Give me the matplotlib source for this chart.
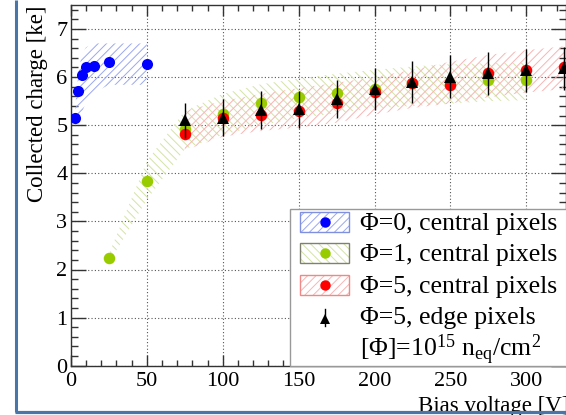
import matplotlib
matplotlib.use("Agg")
import matplotlib.pyplot as plt
from matplotlib.patches import Rectangle
from matplotlib.lines import Line2D
from matplotlib.ticker import MultipleLocator

plt.rcParams["font.family"] = ["Liberation Serif", "DejaVu Serif"]
plt.rcParams["mathtext.fontset"] = "custom"
plt.rcParams["mathtext.rm"] = "Liberation Serif"
plt.rcParams["mathtext.it"] = "Liberation Serif:italic"
plt.rcParams["hatch.linewidth"] = 0.7

# DATA
blue_v = [3, 5, 7, 10, 15, 25, 50]
blue_q = [5.14, 5.71, 6.04, 6.20, 6.23, 6.31, 6.27]
blue_band_v = [3, 5, 7, 10, 15, 25, 50]
blue_band_lo = [4.90, 5.07, 5.24, 5.49, 5.67, 5.84, 5.84]
blue_band_hi = [5.45, 6.10, 6.45, 6.62, 6.70, 6.70, 6.70]

green_v = [25, 50, 75, 100, 125, 150, 175, 200, 225, 250, 275, 300]
green_q = [2.23, 3.85, 4.92, 5.24, 5.46, 5.59, 5.66, 5.75, 5.87, 5.85, 5.95, 5.95]
green_band_v = [25, 50, 75, 100, 125, 150, 175, 200, 225, 250, 275, 300]
green_band_lo = [2.14, 3.45, 4.50, 4.80, 5.00, 5.15, 5.25, 5.35, 5.40, 5.45, 5.50, 5.52]
green_band_hi = [2.32, 4.25, 5.30, 5.65, 5.85, 5.97, 6.07, 6.15, 6.22, 6.27, 6.29, 6.30]

red_v = [75, 100, 125, 150, 175, 200, 225, 250, 275, 300, 325]
red_q = [4.81, 5.14, 5.22, 5.30, 5.47, 5.68, 5.87, 5.84, 6.08, 6.15, 6.20]
red_band_v = [75, 100, 125, 150, 175, 200, 225, 250, 275, 300, 325]
red_band_lo = [4.48, 4.76, 4.88, 4.95, 5.05, 5.22, 5.36, 5.45, 5.58, 5.68, 5.75]
red_band_hi = [5.30, 5.50, 5.65, 5.77, 5.88, 6.00, 6.15, 6.32, 6.46, 6.56, 6.64]

edge_v = [75, 100, 125, 150, 175, 200, 225, 250, 275, 300, 325]
edge_q = [5.10, 5.16, 5.32, 5.33, 5.54, 5.75, 5.90, 6.01, 6.08, 6.14, 6.18]
edge_err = [0.37, 0.39, 0.39, 0.39, 0.40, 0.43, 0.44, 0.45, 0.45, 0.45, 0.45]

legend_labels = ["Φ=0, central pixels", "Φ=1, central pixels",
                 "Φ=5, central pixels", "Φ=5, edge pixels",
                 r"[Φ]=10$^{15}$ n$_{\mathrm{eq}}$/cm$^{2}$"]

BLUE, BLUE_H = "#0000ff", "#9aa8f2"
GREEN, GREEN_H = "#99cc00", "#d3e3a6"
RED, RED_H = "#ff0000", "#f9b4b4"
AXC = "#333333"

W, H = 566, 415


def fx(x):
    return x / W


def fy(y):
    return 1 - y / H


fig = plt.figure(figsize=(W / 100, H / 100), dpi=100)
fig.patch.set_facecolor("white")
ax = fig.add_axes([fx(70.9), fy(365.7), 326 * 1.518 / W, 7.5 * 48.1 / H])

# bands
ax.fill_between(blue_band_v, blue_band_lo, blue_band_hi, facecolor="none",
                edgecolor=BLUE_H, hatch="////", linewidth=0, zorder=1)
ax.fill_between(green_band_v, green_band_lo, green_band_hi, facecolor="none",
                edgecolor=GREEN_H, hatch="\\\\\\\\", linewidth=0, zorder=1)
ax.fill_between(red_band_v, red_band_lo, red_band_hi, facecolor="none",
                edgecolor=RED_H, hatch="////", linewidth=0, zorder=1.1)

# points
ax.plot(blue_v, blue_q, "o", color=BLUE, ms=8, mew=0, zorder=3)
ax.plot(green_v, green_q, "o", color=GREEN, ms=8.3, mew=0, zorder=3)
ax.plot(red_v, red_q, "o", color=RED, ms=8.3, mew=0, zorder=4)
ax.errorbar(edge_v, edge_q, yerr=edge_err, fmt="^", color="black", ms=9,
            mew=0, elinewidth=1, capsize=1.5, capthick=1, zorder=5)

ax.set_xlim(0, 326)
ax.set_ylim(0, 7.5)
ax.xaxis.set_major_locator(MultipleLocator(50))
ax.xaxis.set_minor_locator(MultipleLocator(10))
ax.yaxis.set_major_locator(MultipleLocator(1))
ax.yaxis.set_minor_locator(MultipleLocator(0.2))
ax.tick_params(which="both", direction="in", top=True, right=True,
               color=AXC, width=1)
ax.tick_params(axis="x", which="major", length=7.6, pad=4.7, labelsize=16)
ax.tick_params(axis="x", which="minor", length=4)
ax.tick_params(axis="y", which="major", length=10.8, pad=2.5, labelsize=16)
ax.tick_params(axis="y", which="minor", length=5.2)
ax.grid(True, which="major", linestyle=(0, (1, 2)), color="#555555", lw=0.8)
ax.set_axisbelow(True)
for sp in ax.spines.values():
    sp.set_color(AXC)
    sp.set_linewidth(1)

# axis titles, ROOT style at the axis ends (the x one runs past the crop)
fig.text(fx(38), fy(5), "Collected charge [ke]", rotation=90,
         ha="center", va="top", fontsize=16.5)
fig.text(fx(569), fy(412), "Bias voltage [V]", ha="right", va="baseline",
         fontsize=16.5, zorder=8)

# legend box
fig.add_artist(Rectangle((fx(290), fy(365.7)), fx(620) - fx(290),
                         (365.7 - 209) / H, transform=fig.transFigure,
                         facecolor="white", edgecolor="#999999", lw=1, zorder=3))
rows = [222, 253.5, 285, 317, 348]
bases = [229.5, 261, 292.6, 324.2, 355.8]
box_style = [(BLUE_H, "////", "#8090e0", BLUE),
             (GREEN_H, "\\\\\\\\", "#808070", GREEN),
             (RED_H, "////", "#f08888", RED)]
for (hc, hatch, bc, mc), yc in zip(box_style, rows[:3]):
    fig.add_artist(Rectangle((fx(300), fy(yc + 10)), 49 / W, 20 / H,
                             transform=fig.transFigure, facecolor="white",
                             edgecolor=hc, hatch=hatch, lw=0, zorder=4))
    fig.add_artist(Rectangle((fx(300), fy(yc + 10)), 49 / W, 20 / H,
                             transform=fig.transFigure, facecolor="none",
                             edgecolor=bc, lw=1, zorder=4.5))
    fig.add_artist(Line2D([fx(324.5)], [fy(yc)], marker="o", color=mc, ms=7.5,
                          mew=0, transform=fig.transFigure, zorder=5))
fig.add_artist(Line2D([fx(324.5), fx(324.5)], [fy(309), fy(326)], color="black",
                      lw=1, transform=fig.transFigure, zorder=5))
fig.add_artist(Line2D([fx(324.5)], [fy(319)], marker="^", color="black", ms=7,
                      mew=0, transform=fig.transFigure, zorder=5))
for lab, yb in zip(legend_labels, bases):
    fig.text(fx(360), fy(yb), lab, fontsize=18.5, ha="left", va="baseline",
             zorder=6)

# window frame around the screenshot
frame = "#4a75a8"
fig.add_artist(Line2D([fx(16.2), fx(16.2)], [fy(0), fy(412.3)], color=frame,
                      lw=2.2, transform=fig.transFigure, zorder=10,
                      solid_capstyle="butt"))
fig.add_artist(Line2D([fx(15), fx(566)], [fy(412.3), fy(412.3)], color=frame,
                      lw=2.3, transform=fig.transFigure, zorder=10,
                      solid_capstyle="butt"))

fig.savefig("out.png", dpi=100)
